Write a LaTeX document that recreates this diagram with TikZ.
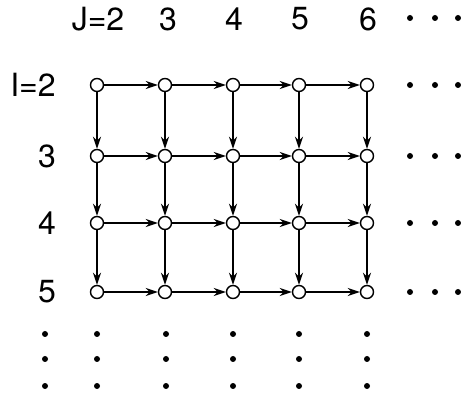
\documentclass[tikz,border=0pt]{standalone}
\usepackage{fontspec}
\setmainfont{TeX Gyre Heros}
\usepackage{tikz}
\usetikzlibrary{arrows.meta}

\begin{document}
\begin{tikzpicture}[x=1pt, y=-1pt, >={Stealth[length=12pt, width=8pt]}]
        % Style definitions
        \tikzset{
            gridpt/.style = {draw, circle, fill=white, line width=1.4pt, minimum size=13pt, inner sep=0pt},
            link/.style = {->, line width=2pt},
            lbl/.style = {font=\fontsize{32}{32}\selectfont, inner sep=0pt},
            dotmark/.style = {fill=black, circle, minimum size=6pt, inner sep=0pt}
        }
        \useasboundingbox (0,0) rectangle (461,398);

        % Column and row labels
        \node [lbl] (colJ2) at (98,19) {J=2};
        \node [lbl] (colJ3) at (168,19) {3};
        \node [lbl] (colJ4) at (234,19) {4};
        \node [lbl] (colJ5) at (300,19) {5};
        \node [lbl] (colJ6) at (368,19) {6};
        \node [lbl] (rowI2) at (33,85) {I=2};
        \node [lbl] (rowI3) at (47,156) {3};
        \node [lbl] (rowI4) at (47,223) {4};
        \node [lbl] (rowI5) at (47,292) {5};

        % Grid points
        \foreach \i/\y in {2/85, 3/156, 4/223, 5/292}
            \foreach \j/\x in {2/97, 3/165, 4/233, 5/299, 6/367}
                \node [gridpt] (n\i\j) at (\x,\y) {};

        % Arrows
        \foreach \i in {2,...,5}
            \foreach \j/\k in {2/3, 3/4, 4/5, 5/6}
                \draw [link] (n\i\j) -- (n\i\k);
        \foreach \i/\k in {2/3, 3/4, 4/5}
            \foreach \j in {2,...,6}
                \draw [link] (n\i\j) -- (n\k\j);

        % Continuation dots
        \foreach \y [count=\r] in {18, 85, 156, 223, 292}
            \foreach \x [count=\c] in {410, 435, 458}
                \node [dotmark] (rdot\r\c) at (\x,\y) {};
        \foreach \y [count=\r] in {334, 359, 386}
            \foreach \x [count=\c] in {45, 97, 166, 233, 299, 367}
                \node [dotmark] (bdot\r\c) at (\x,\y) {};
    \end{tikzpicture}
\end{document}
